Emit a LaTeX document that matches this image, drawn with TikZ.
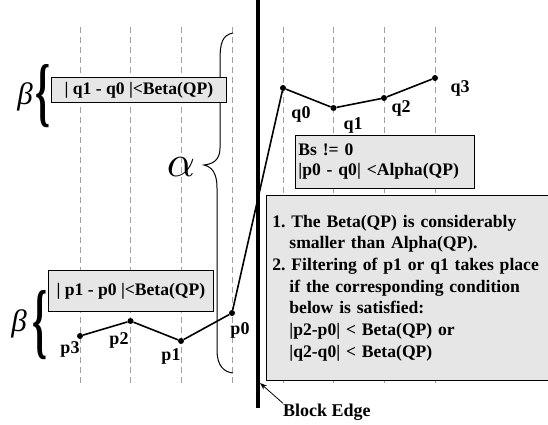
\documentclass[tikz,border=0pt]{standalone}
\usepackage{graphicx}
\usepackage{fontspec}
\setmainfont{Liberation Serif}
\usetikzlibrary{arrows.meta}
\definecolor{boxgray}{RGB}{230,230,230}
\definecolor{dashgray}{RGB}{160,160,160}
\tikzset{
  lbl/.style={font=\bfseries\fontsize{18}{21.7}\selectfont, inner sep=0pt},
  condbox/.style={draw=black, line width=0.8pt, fill=boxgray, font=\bfseries\fontsize{17.6}{21.7}\selectfont, anchor=north west},
  guide/.style={draw=dashgray, line width=0.6pt, dash pattern=on 6pt off 4pt},
  curve/.style={line width=1.6pt, draw=black},
  pt/.style={circle, fill=black, inner sep=0pt, minimum size=6pt},
  blockedge/.style={line width=3.5pt},
  greek/.style={inner sep=0pt, font=\itshape\fontsize{31}{31}\selectfont},
  glyphbrace/.style={inner sep=0pt},
}
\begin{document}
\frenchspacing
\begin{tikzpicture}[x=1pt,y=-1pt]
\useasboundingbox (0,0) rectangle (548,425);
\clip (0,0) rectangle (548,425);
% dashed guides
\foreach \i/\x in {1/80,2/130.5,3/181,4/232,5/283,6/333.5,7/384,8/435} {
  \coordinate (gt\i) at (\x,27);
  \coordinate (gb\i) at (\x,385);
  \draw[guide] (gt\i) -- (gb\i);
}
% alpha brace
\coordinate (at) at (233,33);
\coordinate (ac) at (204,165);
\coordinate (ab) at (233,373);
\draw[line width=1pt] (at) .. controls (222,35) and (220,44) .. (220,60) -- (220,148)
  .. controls (220,160) and (213,164) .. (ac)
  .. controls (212,167) and (217,173) .. (217,188) -- (217,350)
  .. controls (217,366) and (224,372) .. (ab);
\node[inner sep=0pt] (alpha) at (181,167) {\scalebox{4.4}{$\alpha$}};
% beta boxes
\node[condbox, minimum width=175pt, minimum height=25pt, inner sep=0pt] (bq) at (51,77) {| q1 - q0 |<Beta(QP)};
\node[condbox, minimum width=165pt, minimum height=41pt, inner sep=0pt] (bp) at (48,270) {| p1 - p0 |<Beta(QP)};
% beta braces
\node[glyphbrace] (br1) at (42.5,96.5) {\resizebox{15pt}{53pt}{\bfseries\{}};
\node[glyphbrace] (br2) at (40,325) {\resizebox{15pt}{58pt}{\bfseries\{}};
\node[greek] (beta1) at (25,97) {β};
\node[greek] (beta2) at (19,324) {β};
% Bs box
\node[condbox, minimum width=179pt, minimum height=53pt, text width=173pt, inner xsep=3pt, inner ysep=0pt, align=left, font=\bfseries\fontsize{17.6}{20}\selectfont] (bs) at (295,135) {Bs != 0\\|p0 - q0| <Alpha(QP)};
% notes box
\node[condbox, minimum width=300pt, minimum height=185pt, text width=288pt, inner xsep=6pt, inner ysep=0pt, align=left] (notes) at (266,195) {1. The Beta(QP) is considerably\\
\hspace*{17pt}smaller than Alpha(QP).\\
2. Filtering of p1 or q1 takes place\\
\hspace*{17pt}if the corresponding condition\\
\hspace*{17pt}below is satisfied:\\
\hspace*{17pt}|p2-p0| < Beta(QP) or\\
\hspace*{17pt}|q2-q0| < Beta(QP)};
% block edge
\coordinate (et) at (258,0);
\coordinate (eb) at (258,408);
\draw[blockedge] (et) -- (eb);
% sample points
\node[pt] (p3) at (80,336) {};
\node[pt] (p2) at (130.5,321) {};
\node[pt] (p1) at (181,341) {};
\node[pt] (p0) at (232,313) {};
\node[pt] (q0) at (283,88) {};
\node[pt] (q1) at (333.5,108) {};
\node[pt] (q2) at (384,98) {};
\node[pt] (q3) at (435,78) {};
\draw[curve] (p3) -- (p2) -- (p1) -- (p0) -- (q0) -- (q1) -- (q2) -- (q3);
% point labels
\node[lbl, anchor=base] (lp3) at (70,353) {p3};
\node[lbl, anchor=base] (lp2) at (119,344) {p2};
\node[lbl, anchor=base] (lp1) at (171,360) {p1};
\node[lbl, anchor=base] (lp0) at (240,334) {p0};
\node[lbl, anchor=base] (lq0) at (301,118) {q0};
\node[lbl, anchor=base] (lq1) at (353,129) {q1};
\node[lbl, anchor=base] (lq2) at (401,113) {q2};
\node[lbl, anchor=base] (lq3) at (460,93) {q3};
% block edge label
\node[lbl, anchor=base west] (bel) at (283,416) {Block Edge};
\coordinate (bet) at (260,383);
\draw[line width=0.8pt, -{Stealth[length=7pt,width=5pt]}] (bel.north west) -- (bet);
\end{tikzpicture}
\end{document}
